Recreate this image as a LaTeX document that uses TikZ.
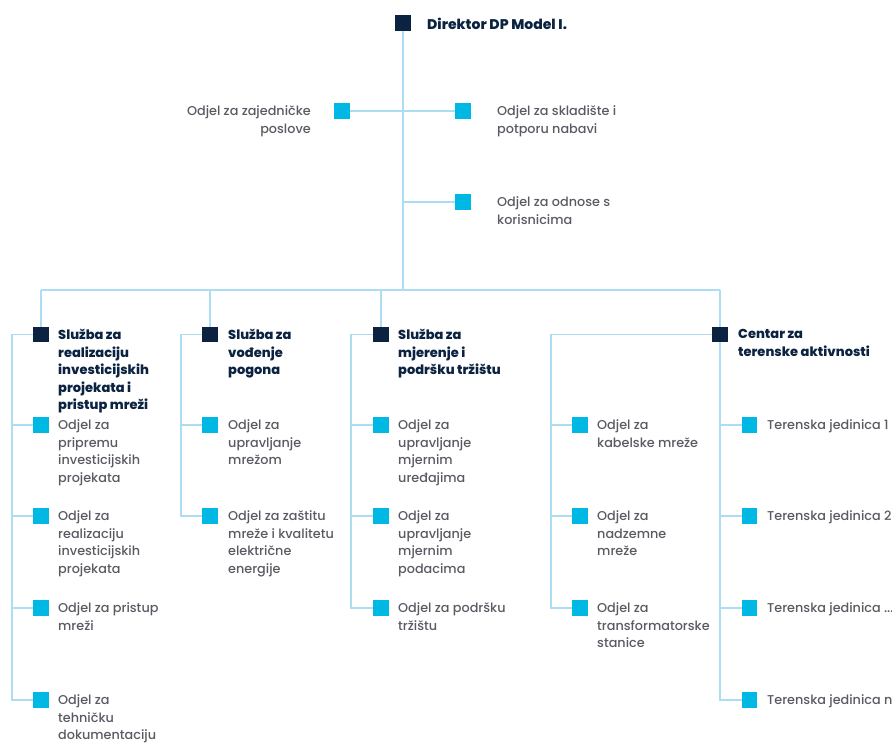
\documentclass[tikz,border=0pt]{standalone}
\usepackage{fontspec}
\setmainfont{Poppins}[UprightFont=* Medium, BoldFont=* ExtraBold]
\definecolor{navy}{HTML}{0B2341}
\definecolor{cyanb}{HTML}{00B8E4}
\definecolor{linec}{HTML}{ADDDF2}
\definecolor{grayt}{HTML}{5A5B62}
\begin{document}
\begin{tikzpicture}[x=1pt,y=-1pt,
  conn/.style={draw=linec, line width=1.7pt},
  dsq/.style={fill=navy, draw=none, minimum size=15.5pt, inner sep=0pt},
  lsq/.style={fill=cyanb, draw=none, minimum size=15.5pt, inner sep=0pt},
  lbl/.style={anchor=north west, inner sep=0pt, align=left, yshift=5.2pt,
    font=\fontsize{12.8}{17.5}\selectfont, text=grayt},
  lblr/.style={lbl, anchor=north east, align=right},
  ttl/.style={lbl, font=\fontsize{13}{17.5}\selectfont\bfseries, text=navy}]
\useasboundingbox (0,0) rectangle (892,745);

% squares
\node[dsq] (dir) at (403,23) {};
\node[lsq] (zaj) at (342,111) {};
\node[lsq] (skl) at (463,111) {};
\node[lsq] (odn) at (463,202) {};

\node[dsq] (s1) at (41,334.5) {};
\node[dsq] (s2) at (210,334.5) {};
\node[dsq] (s3) at (381,334.5) {};
\node[dsq] (s4) at (720,334.5) {};

\node[lsq] (a1) at (41,425) {};
\node[lsq] (a2) at (41,516) {};
\node[lsq] (a3) at (41,608) {};
\node[lsq] (a4) at (41,700) {};

\node[lsq] (b1) at (210,425) {};
\node[lsq] (b2) at (210,516) {};

\node[lsq] (c1) at (381,425) {};
\node[lsq] (c2) at (381,516) {};
\node[lsq] (c3) at (381,608) {};

\node[lsq] (d1) at (580,425) {};
\node[lsq] (d2) at (580,516) {};
\node[lsq] (d3) at (580,608) {};

\node[lsq] (t1) at (749.5,425) {};
\node[lsq] (t2) at (749.5,516) {};
\node[lsq] (t3) at (749.5,608) {};
\node[lsq] (t4) at (749.5,700) {};

% texts
\node[ttl, font=\fontsize{14}{17.5}\selectfont\bfseries] (tdir) at (427,23) {Direktor DP Model I.};
\node[lblr] (tzaj) at (311,111) {Odjel za zajedničke\\poslove};
\node[lbl] (tskl) at (497,111) {Odjel za skladište i\\potporu nabavi};
\node[lbl] (todn) at (497,202) {Odjel za odnose s\\korisnicima};

\node[ttl] (ts1) at (58,334.5) {Služba za\\realizaciju\\investicijskih\\projekata i\\pristup mreži};
\node[ttl] (ts2) at (228,334.5) {Služba za\\vođenje\\pogona};
\node[ttl] (ts3) at (398,334.5) {Služba za\\mjerenje i\\podršku tržištu};
\node[ttl] (ts4) at (738,334.5) {Centar za\\terenske aktivnosti};

\node[lbl] (ta1) at (58,425) {Odjel za\\pripremu\\investicijskih\\projekata};
\node[lbl] (ta2) at (58,516) {Odjel za\\realizaciju\\investicijskih\\projekata};
\node[lbl] (ta3) at (58,608) {Odjel za pristup\\mreži};
\node[lbl] (ta4) at (58,700) {Odjel za\\tehničku\\dokumentaciju};

\node[lbl] (tb1) at (228,425) {Odjel za\\upravljanje\\mrežom};
\node[lbl] (tb2) at (228,516) {Odjel za zaštitu\\mreže i kvalitetu\\električne\\energije};

\node[lbl] (tc1) at (398,425) {Odjel za\\upravljanje\\mjernim\\uređajima};
\node[lbl] (tc2) at (398,516) {Odjel za\\upravljanje\\mjernim\\podacima};
\node[lbl] (tc3) at (398,608) {Odjel za podršku\\tržištu};

\node[lbl] (td1) at (597,425) {Odjel za\\kabelske mreže};
\node[lbl] (td2) at (597,516) {Odjel za\\nadzemne\\mreže};
\node[lbl] (td3) at (597,608) {Odjel za\\transformatorske\\stanice};

\node[lbl] (tt1) at (767,425) {Terenska jedinica 1};
\node[lbl] (tt2) at (767,516) {Terenska jedinica 2};
\node[lbl] (tt3) at (767,608) {Terenska jedinica ...};
\node[lbl] (tt4) at (767,700) {Terenska jedinica n};

% connector coordinates
\coordinate (barT) at (403,290);
\coordinate (bar1) at (41,290);
\coordinate (bar2) at (210,290);
\coordinate (bar3) at (381,290);
\coordinate (bar4) at (720,290);
\coordinate (odnj) at (403,202);
\coordinate (k1) at (12,334.5);
\coordinate (k2) at (181,334.5);
\coordinate (k3) at (351,334.5);
\coordinate (k4) at (551,334.5);

% connectors
\draw[conn] (dir) -- (barT);
\draw[conn] (zaj) -- (skl);
\draw[conn] (odnj) -- (odn);
\draw[conn] (bar1) -- (bar4);
\draw[conn] (bar1) -- (s1);
\draw[conn] (bar2) -- (s2);
\draw[conn] (bar3) -- (s3);
\draw[conn] (bar4) -- (s4);

\draw[conn] (s1) -- (k1) -- (k1 |- a4) -- (a4);
\draw[conn] (k1 |- a1) -- (a1);
\draw[conn] (k1 |- a2) -- (a2);
\draw[conn] (k1 |- a3) -- (a3);

\draw[conn] (s2) -- (k2) -- (k2 |- b2) -- (b2);
\draw[conn] (k2 |- b1) -- (b1);

\draw[conn] (s3) -- (k3) -- (k3 |- c3) -- (c3);
\draw[conn] (k3 |- c1) -- (c1);
\draw[conn] (k3 |- c2) -- (c2);

\draw[conn] (s4) -- (k4) -- (k4 |- d3) -- (d3);
\draw[conn] (k4 |- d1) -- (d1);
\draw[conn] (k4 |- d2) -- (d2);

\draw[conn] (s4) -- (s4 |- t4) -- (t4);
\draw[conn] (s4 |- t1) -- (t1);
\draw[conn] (s4 |- t2) -- (t2);
\draw[conn] (s4 |- t3) -- (t3);
\end{tikzpicture}
\end{document}
